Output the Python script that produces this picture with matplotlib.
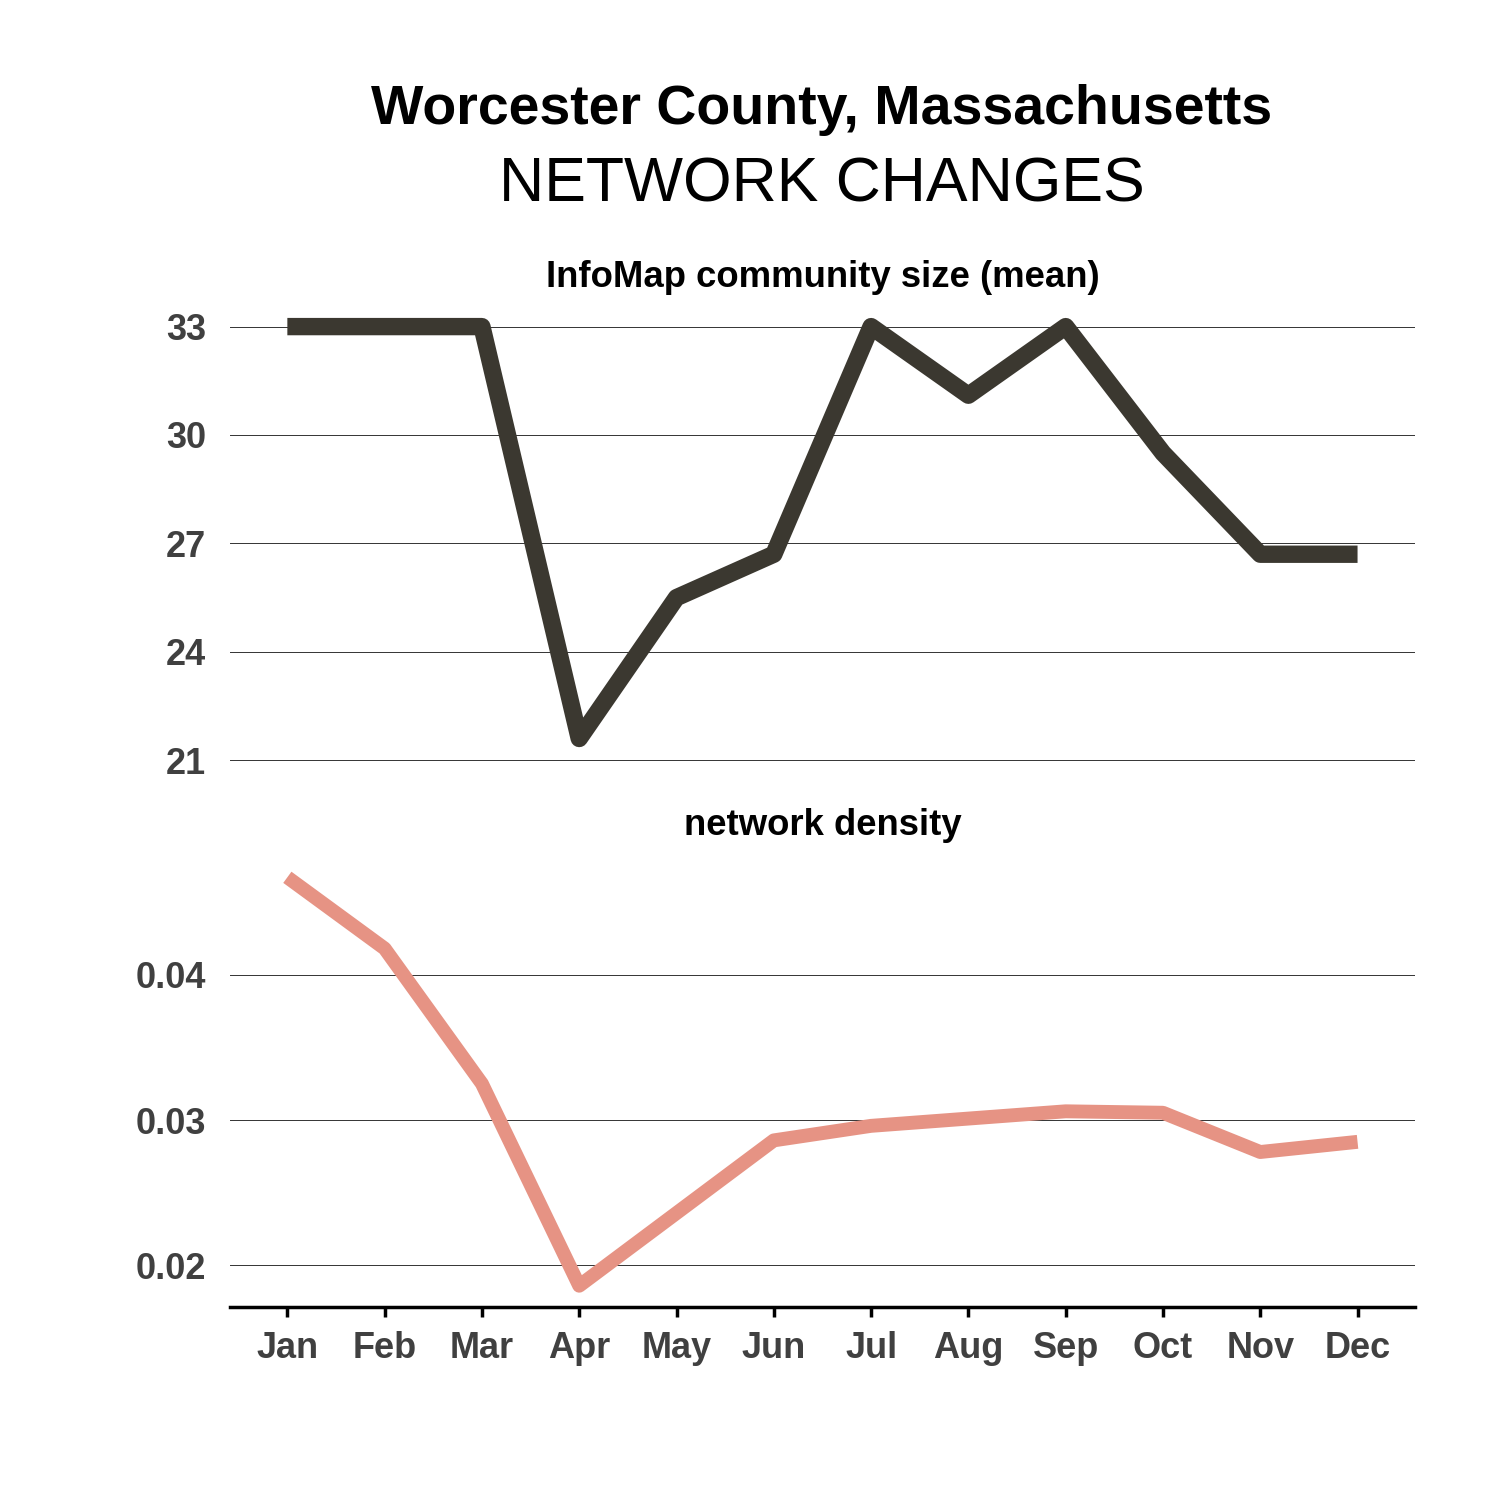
import matplotlib.pyplot as plt

months = ['Jan', 'Feb', 'Mar', 'Apr', 'May', 'Jun',
          'Jul', 'Aug', 'Sep', 'Oct', 'Nov', 'Dec']
community_size = [33.0, 33.0, 33.0, 21.6, 25.5, 26.7,
                  33.0, 31.1, 33.0, 29.5, 26.7, 26.7]
density = [0.0467, 0.0418, 0.0325, 0.0186, 0.0236, 0.0286,
           0.0296, 0.0301, 0.0306, 0.0305, 0.0278, 0.0285]
top_ticks = [21, 24, 27, 30, 33]
bottom_ticks = [0.02, 0.03, 0.04]

plt.rcParams['font.family'] = ['Liberation Sans', 'DejaVu Sans']

fig = plt.figure(figsize=(15, 15), dpi=100)
ax1 = fig.add_axes([0.1533, 0.492, 0.79, 0.304])
ax2 = fig.add_axes([0.1533, 0.1287, 0.79, 0.30])

x = list(range(len(months)))
ax1.plot(x, community_size, color='#3b3830', lw=12.5,
         solid_capstyle='butt', solid_joinstyle='round')
ax2.plot(x, density, color='#e69384', lw=10,
         solid_capstyle='butt', solid_joinstyle='round')

for ax, ticks, fmt in [(ax1, top_ticks, '{:.0f}'), (ax2, bottom_ticks, '{:.2f}')]:
    ax.set_xlim(-0.59, 11.59)
    ax.set_yticks(ticks)
    ax.set_yticklabels([fmt.format(t) for t in ticks])
    ax.grid(axis='y', color='#333333', lw=0.7)
    ax.set_axisbelow(True)
    for s in ['top', 'right', 'left', 'bottom']:
        ax.spines[s].set_visible(False)
    ax.tick_params(axis='y', length=0, pad=17, labelsize=26, labelcolor='#404040')
    for lab in ax.get_yticklabels():
        lab.set_fontweight('bold')

ax1.set_ylim(20.95, 33.57)
ax1.set_xticks([])
ax2.set_ylim(0.01714, 0.0481)
ax2.set_xticks(x)
ax2.set_xticklabels(months, fontsize=26, fontweight='bold', color='#404040')
ax2.spines['bottom'].set_visible(True)
ax2.spines['bottom'].set_linewidth(2.5)
ax2.spines['bottom'].set_color('black')
ax2.tick_params(axis='x', length=7, width=2.5, color='black', pad=10)

ax1.set_title('InfoMap community size (mean)', fontsize=26.3, fontweight='bold', pad=14)
ax2.set_title('network density', fontsize=26.3, fontweight='bold', pad=16)

fig.text(0.548, 0.9267, 'Worcester County, Massachusetts', ha='center', va='center',
         fontsize=40, fontweight='bold')
fig.text(0.548, 0.8767, 'NETWORK CHANGES', ha='center', va='center', fontsize=45)

fig.savefig('out.png', dpi=100, facecolor='white')
